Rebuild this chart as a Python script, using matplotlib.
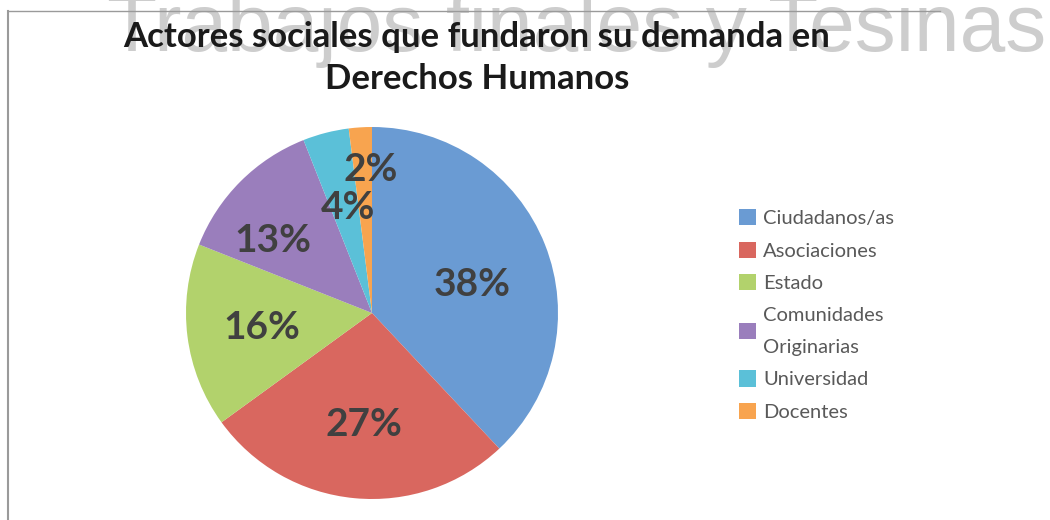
import matplotlib.pyplot as plt
import numpy as np
from matplotlib.lines import Line2D

# data
categories = ['Ciudadanos/as', 'Asociaciones', 'Estado',
              'Comunidades\nOriginarias', 'Universidad', 'Docentes']
shares = [38, 27, 16, 13, 4, 2]
colors = ['#6A9BD3', '#D9675F', '#B2D26C', '#9A7EBC', '#5BC0D8', '#F8A44F']
title = 'Actores sociales que fundaron su demanda en\nDerechos Humanos'
watermark = 'Trabajos finales y Tesinas'

# label placement: distance from centre and angle nudge (deg), one per slice
label_dist = [0.56, 0.60, 0.60, 0.66, 0.58, 0.77]
label_nudge = [-6, 1.5, 0.5, 9, -1.5, -3]

W, H = 1050, 520
fig = plt.figure(figsize=(W / 100, H / 100), dpi=100)

# chart frame (top and left edges visible)
fig.add_artist(Line2D([8 / W, 8 / W], [0, 1 - 11 / H], color='#9a9a9a', lw=1.5))
fig.add_artist(Line2D([8 / W, 940 / W], [1 - 11 / H, 1 - 11 / H], color='#9a9a9a', lw=1.0))

# watermark
fig.text(1046 / W, 1 - 51 / H, watermark, ha='right', va='baseline',
         fontsize=59, color='#cdcdcd', family='Liberation Sans', zorder=0)

# title
fig.text(477 / W, 1 - 58 / H, title, ha='center', va='center',
         fontsize=25, fontweight='bold', color='#1a1a1a', family='Lato',
         linespacing=1.42, zorder=2)

# pie
cx, cy, r = 372, 313, 186
ax = fig.add_axes([(cx - r) / W, (H - cy - r) / H, 2 * r / W, 2 * r / H])
wedges, _ = ax.pie(shares, colors=colors, startangle=90, counterclock=False,
                   radius=1, wedgeprops=dict(linewidth=0))
ax.set_xlim(-1, 1)
ax.set_ylim(-1, 1)
ax.set_aspect('equal')

for w, v, d, n in zip(wedges, shares, label_dist, label_nudge):
    mid = np.deg2rad((w.theta1 + w.theta2) / 2 + n)
    ax.text(d * np.cos(mid), d * np.sin(mid), f'{v}%', ha='center', va='center',
            fontsize=28, fontweight='bold', color='#404040', family='Lato')

leg = fig.legend(wedges, categories, loc='upper left',
                 bbox_to_anchor=(731 / W, 1 - 201 / H), frameon=False,
                 prop=dict(family='Lato', size=14.5), labelcolor='#595959',
                 handlelength=0.85, handleheight=0.85, handletextpad=0.35,
                 labelspacing=0.72, borderaxespad=0)
for t in leg.get_texts():
    t.set_linespacing(2.1)

fig.savefig('out.png', dpi=100)
